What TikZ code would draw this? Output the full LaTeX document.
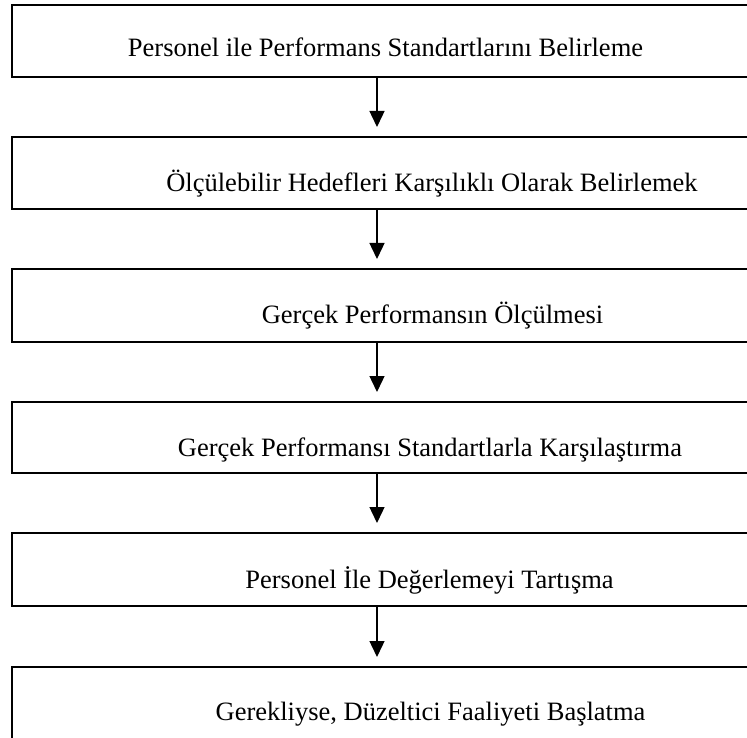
\documentclass[tikz,border=0pt]{standalone}
\usepackage{fontspec}
\setmainfont{Liberation Serif}
\usetikzlibrary{arrows.meta}
\tikzset{
  stepbox/.style={draw=black, line width=1.4pt, minimum width=750pt, minimum height=72pt, inner sep=0pt, outer sep=0pt},
  steplabel/.style={anchor=base, inner sep=0pt, font=\fontsize{26.5}{30}\selectfont},
  arr/.style={line width=1.4pt, -{Triangle[width=15pt,length=16pt]}, shorten >=10pt}
}
\begin{document}
\begin{tikzpicture}[x=1pt,y=-1pt]
\useasboundingbox (0,0) rectangle (747,738);
\clip (0,0) rectangle (747,738);
\fill[white] (0,0) rectangle (747,738);
\node[stepbox] (b1) at (387,41) {};
\node[stepbox] (b2) at (387,173) {};
\node[stepbox, minimum height=73pt] (b3) at (387,305.5) {};
\node[stepbox, minimum height=71pt] (b4) at (387,437.5) {};
\node[stepbox, minimum height=73pt] (b5) at (387,569.5) {};
\node[stepbox, minimum height=146pt] (b6) at (387,740) {};
\node[steplabel] (t1) at (385.5,57) {Personel ile Performans Standartlarını Belirleme};
\node[steplabel] (t2) at (432,192) {Ölçülebilir Hedefleri Karşılıklı Olarak Belirlemek};
\node[steplabel] (t3) at (432.5,323) {Gerçek Performansın Ölçülmesi};
\node[steplabel] (t4) at (430,456) {Gerçek Performansı Standartlarla Karşılaştırma};
\node[steplabel] (t5) at (429.5,588) {Personel İle Değerlemeyi Tartışma};
\node[steplabel] (t6) at (430.5,720) {Gerekliyse, Düzeltici Faaliyeti Başlatma};
\coordinate (ax) at (377,0);
\draw[arr] (b1.south -| ax) -- (b2.north -| ax);
\draw[arr] (b2.south -| ax) -- (b3.north -| ax);
\draw[arr] (b3.south -| ax) -- (b4.north -| ax);
\draw[arr] (b4.south -| ax) -- (b5.north -| ax);
\draw[arr] (b5.south -| ax) -- (b6.north -| ax);
\end{tikzpicture}
\end{document}
